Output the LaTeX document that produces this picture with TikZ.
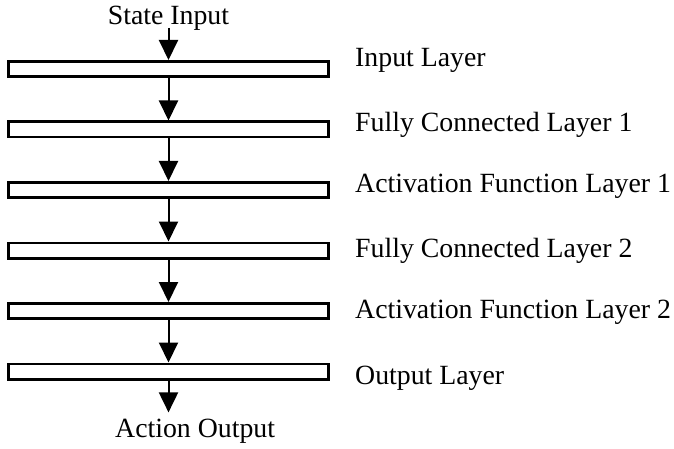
\documentclass[tikz,border=0pt]{standalone}
\usepackage{fontspec}
\setmainfont{Liberation Serif}
\usetikzlibrary{arrows.meta}
\begin{document}
\begin{tikzpicture}[x=1pt,y=-1pt,
  layerbar/.style={draw=black, line width=2.7pt, rectangle, minimum width=320pt, minimum height=15.3pt, inner sep=0pt, fill=white},
  lbl/.style={anchor=base west, inner sep=0pt, font=\fontsize{27.8}{32}\selectfont},
  flow/.style={line width=2pt, -{Triangle[length=20pt,width=19pt]}}]
\useasboundingbox (0,0) rectangle (674,449);
\node[layerbar] (b1) at (168.5,69) {};
\node[layerbar] (b2) at (168.5,129.5) {};
\node[layerbar] (b3) at (168.5,190) {};
\node[layerbar] (b4) at (168.5,250.5) {};
\node[layerbar] (b5) at (168.5,311) {};
\node[layerbar] (b6) at (168.5,371.5) {};
\node[lbl, anchor=base] (si) at (168.5,25) {State Input};
\node[lbl, inner ysep=6pt] (ao) at (115,437) {Action Output};
\node[lbl] (l1) at (355,67) {Input Layer};
\node[lbl] (l2) at (355,132) {Fully Connected Layer 1};
\node[lbl] (l3) at (355,193) {Activation Function Layer 1};
\node[lbl] (l4) at (355,257) {Fully Connected Layer 2};
\node[lbl] (l5) at (355,318) {Activation Function Layer 2};
\node[lbl] (l6) at (355,384) {Output Layer};
\draw[flow] ([yshift=-3pt]si.base) -- (b1.north);
\draw[flow] (b1.south) -- (b2.north);
\draw[flow] (b2.south) -- (b3.north);
\draw[flow] (b3.south) -- (b4.north);
\draw[flow] (b4.south) -- (b5.north);
\draw[flow] (b5.south) -- (b6.north);
\draw[flow] (b6.south) -- (b6.south |- ao.north);
\end{tikzpicture}
\end{document}
